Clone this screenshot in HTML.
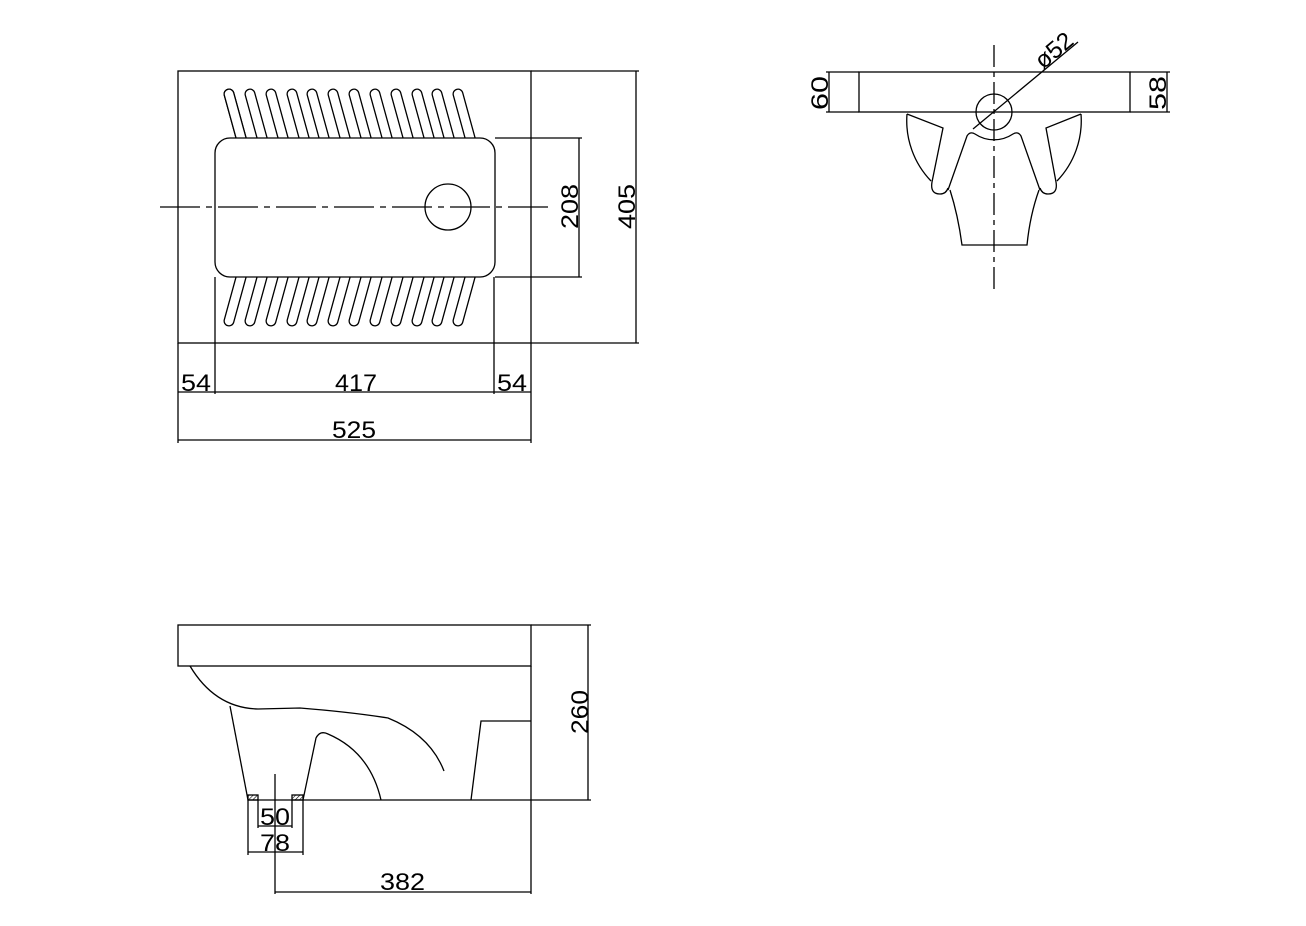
<!DOCTYPE html>
<html><head><meta charset="utf-8"><style>
html,body{margin:0;padding:0;background:#fff;}
svg{display:block;}
text{font-family:"Liberation Sans",sans-serif;font-size:24px;fill:#000;}
</style></head><body>
<svg width="1306" height="926" viewBox="0 0 1306 926" xmlns="http://www.w3.org/2000/svg">
<defs>
<pattern id="h" width="3" height="3" patternUnits="userSpaceOnUse" patternTransform="rotate(45)">
<line x1="0" y1="0" x2="0" y2="3" stroke="#000" stroke-width="1.2"/></pattern>
</defs>
<g fill="none" stroke="#000" stroke-width="1.3">
<!-- TOP-LEFT PLAN VIEW -->
<rect x="178" y="71" width="353" height="272"/>
<g stroke-linecap="round">
<g id="slotsTop">
<line x1="229" y1="94" x2="243" y2="145" stroke-width="11"/>
</g>
</g>
</g>
<!-- slots -->
<g stroke-linecap="round">
<g stroke="#000" stroke-width="11">
<path d="M229 94L243 145M250 94L264 145M271 94L285 145M292 94L306 145M312 94L326 145M333 94L347 145M354 94L368 145M375 94L389 145M396 94L410 145M417 94L431 145M437 94L451 145M458 94L472 145"/>
<path d="M229 321L243 270M250 321L264 270M271 321L285 270M292 321L306 270M312 321L326 270M333 321L347 270M354 321L368 270M375 321L389 270M396 321L410 270M417 321L431 270M437 321L451 270M458 321L472 270"/>
</g>
<g stroke="#fff" stroke-width="8.4">
<path d="M229 94L243 145M250 94L264 145M271 94L285 145M292 94L306 145M312 94L326 145M333 94L347 145M354 94L368 145M375 94L389 145M396 94L410 145M417 94L431 145M437 94L451 145M458 94L472 145"/>
<path d="M229 321L243 270M250 321L264 270M271 321L285 270M292 321L306 270M312 321L326 270M333 321L347 270M354 321L368 270M375 321L389 270M396 321L410 270M417 321L431 270M437 321L451 270M458 321L472 270"/>
</g>
</g>
<g fill="none" stroke="#000" stroke-width="1.3">
<rect x="215" y="138" width="280" height="139" rx="15" fill="#fff"/>
<circle cx="448" cy="207" r="23"/>
<line x1="160" y1="207" x2="550" y2="207" stroke-dasharray="40 6 6 6"/>
<line x1="215" y1="277" x2="215" y2="394"/>
<line x1="494" y1="277" x2="494" y2="394"/>
<line x1="178" y1="343" x2="178" y2="443"/>
<line x1="531" y1="343" x2="531" y2="443"/>
<line x1="178" y1="392" x2="531" y2="392"/>
<line x1="178" y1="440" x2="531" y2="440"/>
<line x1="495" y1="138" x2="582" y2="138"/>
<line x1="495" y1="277" x2="582" y2="277"/>
<line x1="579" y1="138" x2="579" y2="277"/>
<line x1="531" y1="71" x2="639" y2="71"/>
<line x1="531" y1="343" x2="639" y2="343"/>
<line x1="636" y1="71" x2="636" y2="343"/>
</g>
<text x="181" y="391" textLength="30" lengthAdjust="spacingAndGlyphs">54</text>
<text x="335" y="391" textLength="42" lengthAdjust="spacingAndGlyphs">417</text>
<text x="497" y="391" textLength="30" lengthAdjust="spacingAndGlyphs">54</text>
<text x="332" y="438" textLength="44" lengthAdjust="spacingAndGlyphs">525</text>
<text transform="translate(578,229) rotate(-90)" textLength="45" lengthAdjust="spacingAndGlyphs">208</text>
<text transform="translate(635,229) rotate(-90)" textLength="45" lengthAdjust="spacingAndGlyphs">405</text>

<!-- TOP-RIGHT VIEW -->
<g fill="none" stroke="#000" stroke-width="1.3">
<rect x="859" y="72" width="271" height="40"/>
<line x1="826" y1="72" x2="859" y2="72"/>
<line x1="826" y1="112" x2="859" y2="112"/>
<line x1="829" y1="72" x2="829" y2="112"/>
<line x1="1130" y1="72" x2="1170" y2="72"/>
<line x1="1130" y1="112" x2="1170" y2="112"/>
<line x1="1167" y1="72" x2="1167" y2="112"/>
<line x1="994" y1="45" x2="994" y2="292" stroke-dasharray="22 5 5 5"/>
<circle cx="994" cy="112" r="18"/>
<line x1="973" y1="129" x2="1078" y2="42"/>
<path d="M907 114 A87 87 0 0 0 931 181"/>
<path d="M1081 114 A87 87 0 0 1 1057 181"/>
<path d="M907 114 L943 128 L932 182 Q930 194 940 194 Q946 194 948 188"/>
<path d="M1081 114 L1046 128 L1056 182 Q1058 194 1048 194 Q1042 194 1040 188"/>
<path d="M948 190 L967 136 Q970 131 975 134 A34 34 0 0 0 1013 134 Q1018 131 1021 136 L1040 190"/>
<path d="M950 190 Q958 215 962 245 L1027 245 Q1030 215 1039 190"/>
</g>
<text transform="translate(828,110) rotate(-90)" textLength="34" lengthAdjust="spacingAndGlyphs">60</text>
<text transform="translate(1166,110) rotate(-90)" textLength="34" lengthAdjust="spacingAndGlyphs">58</text>
<text transform="translate(1043,70) rotate(-40)" textLength="42" lengthAdjust="spacingAndGlyphs">ø52</text>

<!-- BOTTOM SIDE VIEW -->
<g fill="none" stroke="#000" stroke-width="1.3">
<rect x="178" y="625" width="353" height="41"/>
<line x1="531" y1="666" x2="531" y2="894"/>
<path d="M531 721 L481 721 L471 800"/>
<line x1="248" y1="800" x2="591" y2="800"/>
<path d="M190 666 Q215 708 258 709 L300 708 Q350 712 388 718 Q430 735 444 771"/>
<line x1="230" y1="706" x2="248" y2="800"/>
<path d="M303 800 L316 738 Q320 730 328 734 Q370 752 381 800"/>
<rect x="248" y="795" width="10" height="5" fill="url(#h)"/>
<rect x="292" y="795" width="11" height="5" fill="url(#h)"/>
<line x1="275" y1="774" x2="275" y2="894"/>
<line x1="258" y1="800" x2="258" y2="828"/>
<line x1="292" y1="800" x2="292" y2="828"/>
<line x1="258" y1="826" x2="292" y2="826"/>
<line x1="248" y1="800" x2="248" y2="855"/>
<line x1="303" y1="800" x2="303" y2="855"/>
<line x1="248" y1="852" x2="303" y2="852"/>
<line x1="275" y1="892" x2="531" y2="892"/>
<line x1="531" y1="625" x2="591" y2="625"/>
<line x1="588" y1="625" x2="588" y2="800"/>
</g>
<text x="260" y="825" textLength="30" lengthAdjust="spacingAndGlyphs">50</text>
<text x="260" y="851" textLength="30" lengthAdjust="spacingAndGlyphs">78</text>
<text x="380" y="890" textLength="45" lengthAdjust="spacingAndGlyphs">382</text>
<text transform="translate(588,734) rotate(-90)" textLength="44" lengthAdjust="spacingAndGlyphs">260</text>
</svg>
</body></html>
